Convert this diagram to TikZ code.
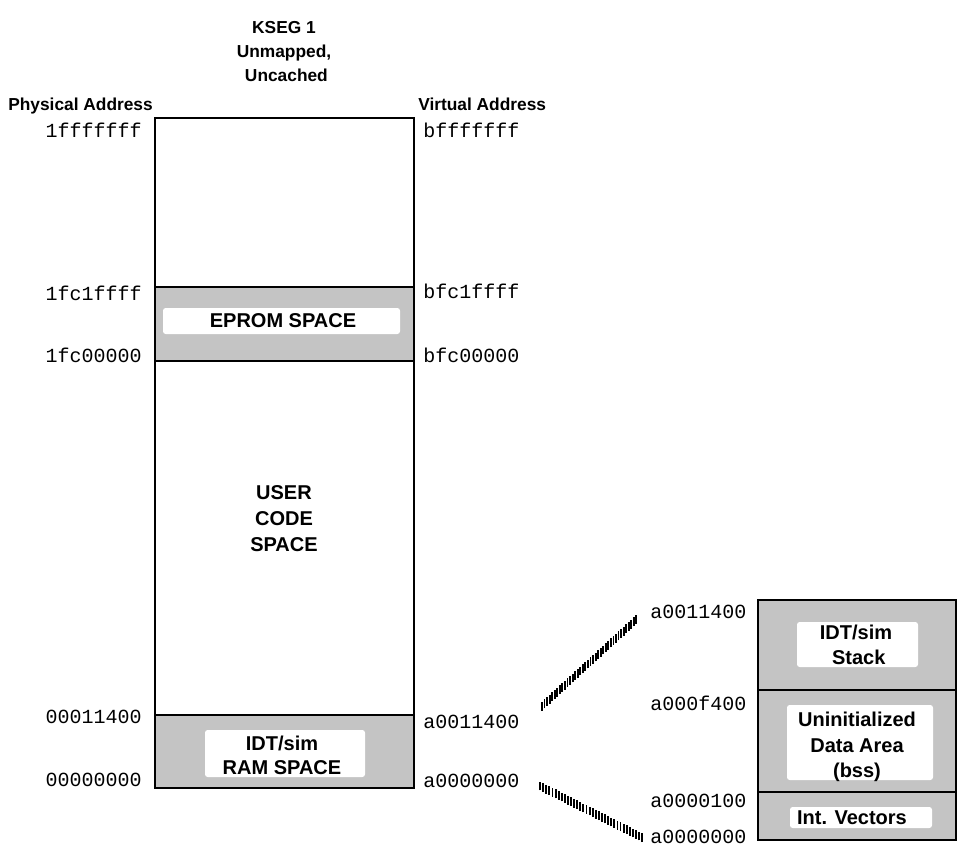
\documentclass[tikz,border=0pt]{standalone}
\usepackage{fontspec}
\setmainfont{Liberation Sans}
\newfontfamily\monofnt{Liberation Mono}
\usetikzlibrary{decorations.markings}
\begin{document}
\begin{tikzpicture}[x=0.75pt,y=-0.75pt,
  addr/.style={font=\monofnt\fontsize{15}{18}\selectfont, inner sep=0pt},
  head/.style={font=\bfseries\fontsize{13}{18}\selectfont, align=center, inner sep=0pt},
  lab/.style={font=\bfseries\fontsize{15}{18.5}\selectfont, align=center, inner sep=0pt},
  region/.style={draw=black, line width=1.5pt},
  band/.style={fill=black!23},
  whitebox/.style={fill=white, rounded corners=2pt},
  hatch/.style={decoration={markings, mark=between positions 0.02 and 1 step 2.6pt with {\pgftransformresetnontranslations\draw[line width=1.4pt] (0pt,-3.3pt)--(0pt,3.3pt);}}, decorate}
]
\useasboundingbox (0,0) rectangle (958,850);

% headings
\node[head] (title) at (284,52) {KSEG 1\\Unmapped,\\\ Uncached};
\node[head, anchor=base west] (phys) at (8,110) {Physical Address};
\node[head, anchor=base west] (virt) at (418,110) {Virtual Address};

% main KSEG1 column
\fill[band] (155,287) rectangle (414,361);
\fill[band] (155,715) rectangle (414,788);
\draw[region] (155,118) rectangle (414,788);
\draw[region] (155,287) -- (414,287);
\draw[region] (155,361) -- (414,361);
\draw[region] (155,715) -- (414,715);

\fill[whitebox] (163,308) rectangle (400,334);
\node[lab] (eprom) at (283,321) {EPROM SPACE};
\node[lab, font=\bfseries\fontsize{15}{19.5}\selectfont] (user) at (284,519) {USER\\CODE\\SPACE};
\fill[whitebox] (205,730) rectangle (365,777);
\node[lab, font=\bfseries\fontsize{15}{18}\selectfont] (ram) at (282,755) {IDT/sim\\RAM SPACE};

% physical addresses
\node[addr, anchor=base east] (p1) at (142,137) {1fffffff};
\node[addr, anchor=base east] (p2) at (142,300) {1fc1ffff};
\node[addr, anchor=base east] (p3) at (142,362) {1fc00000};
\node[addr, anchor=base east] (p4) at (142,723) {00011400};
\node[addr, anchor=base east] (p5) at (142,786) {00000000};

% virtual addresses
\node[addr, anchor=base west] (v1) at (423,137) {bfffffff};
\node[addr, anchor=base west] (v2) at (423,298) {bfc1ffff};
\node[addr, anchor=base west] (v3) at (423,362) {bfc00000};
\node[addr, anchor=base west] (v4) at (423,728) {a0011400};
\node[addr, anchor=base west] (v5) at (423,787) {a0000000};

% expanded RAM column
\fill[band] (758,600) rectangle (956,840);
\draw[region] (758,600) rectangle (956,840);
\draw[region] (758,690) -- (956,690);
\draw[region] (758,792) -- (956,792);

\fill[whitebox] (797,622) rectangle (918,667);
\node[lab, font=\bfseries\fontsize{15}{19}\selectfont] (stack) at (856,645) {IDT/sim\\\ Stack};
\fill[whitebox] (787,705) rectangle (933,780);
\node[lab, font=\bfseries\fontsize{15}{19}\selectfont] (bss) at (857,747) {Uninitialized\\Data Area\\(bss)};
\fill[whitebox] (790,807) rectangle (932,828);
\node[lab] (vec) at (852,818) {Int. Vectors};

\node[addr, anchor=base west] (r1) at (650,618) {a0011400};
\node[addr, anchor=base west] (r2) at (650,710) {a000f400};
\node[addr, anchor=base west] (r3) at (650,807) {a0000100};
\node[addr, anchor=base west] (r4) at (650,843) {a0000000};

% hatched connectors
\coordinate (u0) at (540,708);
\coordinate (u1) at (638,618);
\coordinate (l0) at (538,785);
\coordinate (l1) at (643,838);
\path[hatch] (u0) -- (u1);
\path[hatch] (l0) -- (l1);
\end{tikzpicture}
\end{document}
